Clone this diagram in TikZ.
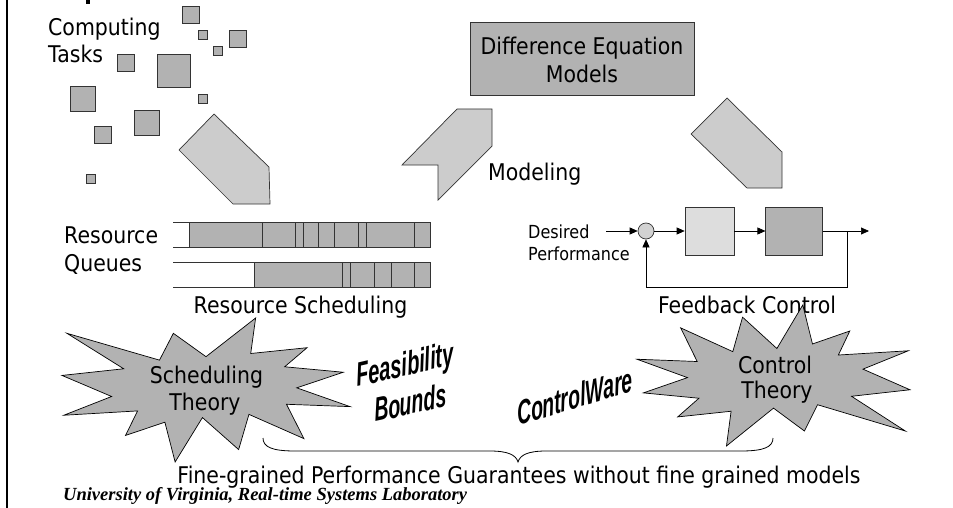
\documentclass[tikz,border=0pt]{standalone}
\usepackage{fontspec}
\setmainfont{DejaVu Sans}[FakeStretch=0.89]
\newfontfamily\wordart{Liberation Sans}
\newfontfamily\labfont{Liberation Serif}
\usetikzlibrary{arrows.meta}

\definecolor{boxgray}{HTML}{B2B2B2}
\definecolor{arrowgray}{HTML}{CCCCCC}
\definecolor{lightbox}{HTML}{DDDDDD}
\definecolor{sumgray}{HTML}{D2D2D2}
\definecolor{edge}{HTML}{333333}

\tikzset{
  sq/.style={draw=edge, fill=boxgray, line width=0.7pt},
  blockarrow/.style={draw=edge, fill=arrowgray, line width=0.7pt, line join=miter},
  qline/.style={draw=edge, line width=0.7pt},
  lbl/.style={font=\fontsize{23}{27}\selectfont, inner sep=0pt},
  smalllbl/.style={font=\fontsize{18}{21}\selectfont, inner sep=0pt},
  wa/.style={font=\wordart\bfseries\itshape\fontsize{33}{36}\selectfont, inner sep=0pt},
  starshape/.style={draw=black, fill=boxgray, line width=0.7pt, line join=miter},
  flow/.style={draw=black, line width=0.7pt, -{Triangle[length=8pt,width=7pt]}},
  blockbox/.style={draw=edge, line width=0.7pt, inner sep=0pt},
}

% explosion outline in a 100 x 100 box
\newcommand\burstshape{%
  \draw[starshape] (50,26.85) -- (67.23,0) -- (65.53,24.65) -- (85.09,20.63)
    -- (77.32,33.87) -- (97.67,37.67) -- (81.51,48.50) -- (100,61.53)
    -- (77.95,59.92) -- (84.00,83.77) -- (64.91,66.93) -- (61.33,91.38)
    -- (48.76,69.14) -- (39.28,100) -- (35.72,72.35) -- (22.05,81.56)
    -- (26.24,64.52) -- (0.63,67.53) -- (17.23,54.51) -- (0,39.88)
    -- (21.42,35.26) -- (1.71,10.63) -- (33.85,29.26) -- (38.67,10.63) -- cycle;}

\begin{document}
\begin{tikzpicture}[x=1pt,y=-1pt]
\useasboundingbox (0,0) rectangle (953,508);

% frame edge and clipped title stroke
\draw[line width=2.5pt] (7,0) -- (7,508);
\fill (86,0) rectangle (90,4);

% computing tasks
\node[lbl, anchor=base west] (comp) at (48,36) {Computing};
\node[lbl, anchor=base west] (tasks) at (48,63) {Tasks};
\draw[sq] (182,6) rectangle ++(17,17);
\draw[sq] (198,30) rectangle ++(9,9);
\draw[sq] (229,30) rectangle ++(17,17);
\draw[sq] (213,46) rectangle ++(9,9);
\draw[sq] (117,54) rectangle ++(17,17);
\draw[sq] (157,54) rectangle ++(33,33);
\draw[sq] (198,94) rectangle ++(9,9);
\draw[sq] (70,86) rectangle ++(25,25);
\draw[sq] (134,110) rectangle ++(25,25);
\draw[sq] (94,126) rectangle ++(17,17);
\draw[sq] (86,174) rectangle ++(9,9);

% block arrows
\draw[blockarrow] (214,114) -- (269,167) -- (270,204) -- (233,204) -- (179,150) -- cycle;
\draw[blockarrow] (457,109) -- (492,109) -- (492,146) -- (438,200) -- (438,165) -- (402,165) -- cycle;
\draw[blockarrow] (727,98) -- (782,152) -- (782,188) -- (747,188) -- (691,134) -- cycle;

% models box
\node[blockbox, fill=boxgray, minimum width=224pt, minimum height=73pt] (diff) at (582,58.5) {};
\node[lbl, anchor=base] (diff1) at (582,55) {Difference Equation};
\node[lbl, anchor=base] (diff2) at (582,83) {Models};
\node[lbl, anchor=base west] (modeling) at (488,180) {Modeling};

% resource queues
\node[lbl, anchor=base west] (res) at (64,243) {Resource};
\node[lbl, anchor=base west] (queues) at (64,271) {Queues};
\fill[boxgray] (189,222) rectangle (430,247);
\draw[qline] (173,222) -- (430,222) -- (430,247) -- (173,247);
\foreach \x in {189,262,295,303,318,334,358,366,414} \draw[qline] (\x,222) -- (\x,247);
\fill[boxgray] (254,262) rectangle (430,287);
\draw[qline] (173,262) -- (430,262) -- (430,287) -- (173,287);
\foreach \x in {254,342,350,374,391,414} \draw[qline] (\x,262) -- (\x,287);
\node[lbl, anchor=base] (rsched) at (300.5,313) {Resource Scheduling};

% feedback loop
\node[smalllbl, anchor=base west] (des1) at (528,238) {Desired};
\node[smalllbl, anchor=base west] (des2) at (528,260) {Performance};
\coordinate (fin) at (606,231);
\node[draw=edge, fill=sumgray, circle, minimum size=16pt, inner sep=0pt, line width=0.7pt] (sum) at (646,231) {};
\node[blockbox, fill=lightbox, minimum width=49pt, minimum height=48pt] (ctrl) at (709.5,231) {};
\node[blockbox, fill=boxgray, minimum width=56.5pt, minimum height=48pt] (plant) at (794,231) {};
\coordinate (branch) at (847,231);
\coordinate (fout) at (869,231);
\coordinate (fbk) at (847,287);
\draw[flow] (fin) -- (sum);
\draw[flow] (sum) -- (ctrl);
\draw[flow] (ctrl) -- (plant);
\draw[flow] (plant) -- (fout);
\draw[flow] (branch) -- (fbk) -| (sum.south);
\node[lbl, anchor=base] (fbc) at (747,313) {Feedback Control};

% theory bursts
\begin{scope}[shift={(62,318)}, xscale=2.88, yscale=1.44]
  \burstshape
\end{scope}
\begin{scope}[shift={(910,446)}, xscale=-2.73, yscale=-1.41]
  \burstshape
\end{scope}
\node[lbl, anchor=base] (st1) at (206.5,383) {Scheduling};
\node[lbl, anchor=base] (st2) at (205,410) {Theory};
\node[lbl, anchor=base] (ct1) at (775,373) {Control};
\node[lbl, anchor=base] (ct2) at (777,398) {Theory};

% slanted headings: condensed and tilted upward
\node[wa, anchor=base west, rotate=13, xslant=0.15, xscale=0.62] (feas) at (357,387) {Feasibility};
\node[wa, anchor=base west, rotate=12, xslant=0.15, xscale=0.6] (bounds) at (375,422) {Bounds};
\node[wa, anchor=base west, rotate=17, xslant=0.22, xscale=0.61] (cware) at (518,426) {ControlWare};

% brace and caption
\draw[line width=0.8pt] (263,438) .. controls (263,447) and (272,451) .. (295,451)
  -- (490,451) .. controls (508,451) and (516,455) .. (518,462)
  .. controls (520,455) and (528,451) .. (546,451)
  -- (741,451) .. controls (764,451) and (773,447) .. (773,438);
\node[lbl, anchor=base] (caption) at (519,483) {Fine-grained Performance Guarantees without fine grained models};
\node[font=\labfont\bfseries\itshape\fontsize{18.5}{21}\selectfont, inner sep=0pt, anchor=base west] (lab) at (63,500) {University of Virginia, Real-time Systems Laboratory};
\end{tikzpicture}
\end{document}
